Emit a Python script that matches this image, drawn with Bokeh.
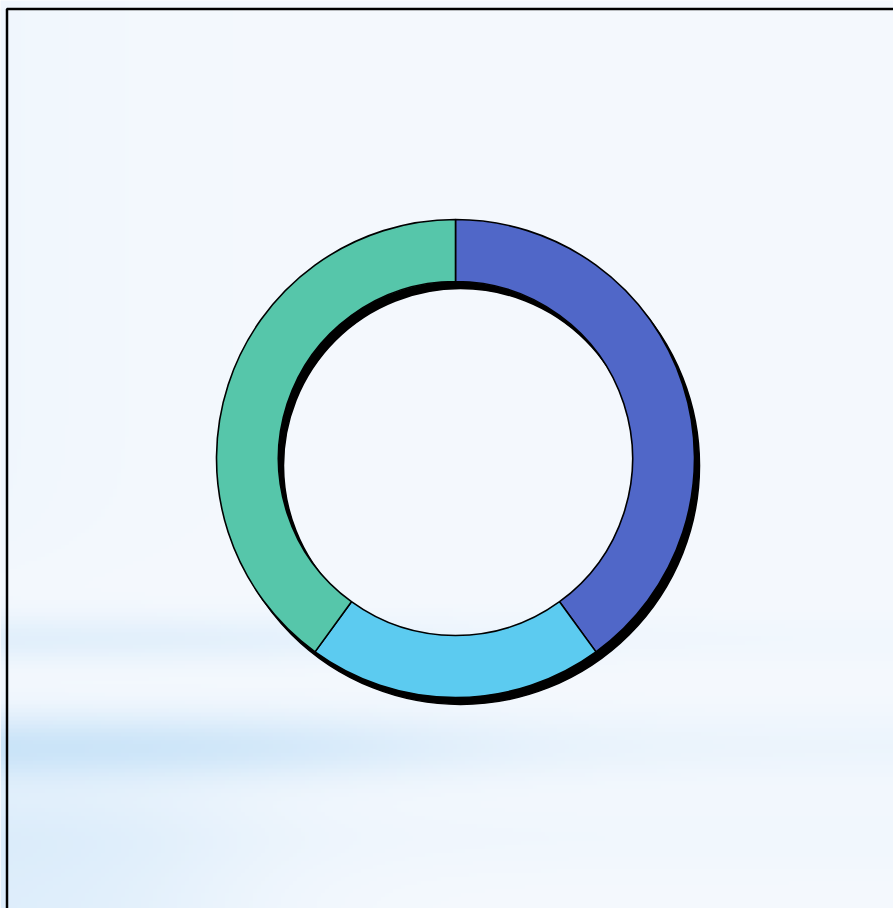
import numpy as np
from bokeh.plotting import figure
from bokeh.models import Range1d, ColumnDataSource
from bokeh.embed import file_html
from bokeh.resources import INLINE

# ---- data ----
categories = ["A", "B", "C"]
values = [40, 20, 40]
colors = ["#5067C8", "#5CCBF0", "#56C6AA"]

W, H = 893, 908
p = figure(width=W, height=H, x_range=Range1d(0, W), y_range=Range1d(0, H),
           output_backend="svg", toolbar_location=None, min_border=0)
p.axis.visible = False
p.grid.visible = False
p.outline_line_color = None
p.background_fill_color = "#F6FAFE"
p.border_fill_color = "#F6FAFE"

# ---- background gradient (decoration) ----
s = 4
nr, nc = H // s + 1, W // s + 1
cols = (np.arange(nc) + 0.5) * s
rows = (np.arange(nr) + 0.5) * s
Y = (H - rows)[:, None]      # page y
X = cols[None, :]            # page x
fade = 0.8 / (1 + np.exp((X - 380) / 100.0)) + 0.2
bandA = 0.40 * np.exp(-((Y - 635) / 24.0) ** 2)
bandB = 0.85 * np.exp(-((Y - 742) / 34.0) ** 2)
lowreg = 0.6 / (1 + np.exp(-(Y - 780) / 20.0))
lowreg = lowreg * (0.85 / (1 + np.exp((X - 200) / 70.0)) + 0.15 * np.exp(-((Y - 830) / 40.0) ** 2))
topleft = 0.10 * np.exp(-X / 150.0) * (1 / (1 + np.exp((Y - 560) / 30.0)))
I = np.clip((bandA + bandB) * fade + lowreg + topleft, 0, 1)
base = np.array([245, 249, 254], float)
blue = np.array([198, 226, 248], float)
rgb = base[None, None, :] + I[:, :, None] * (blue - base)[None, None, :]
img = np.empty((nr, nc), dtype=np.uint32)
view = img.view(dtype=np.uint8).reshape((nr, nc, 4))
for k in range(3):
    view[:, :, k] = np.clip(rgb[:, :, k], 0, 255).astype(np.uint8)
view[:, :, 3] = 255
p.image_rgba(image=[img], x=0, y=H - nr * s, dw=nc * s, dh=nr * s)

# ---- donut ----
cx, cy = 455, H - 458
r_in, r_out = 177, 239
total = float(sum(values))
fr = np.cumsum([0] + values) / total
start = [np.pi / 2 - fr[i] * 2 * np.pi for i in range(len(values))]
end = [np.pi / 2 - fr[i + 1] * 2 * np.pi for i in range(len(values))]
src = ColumnDataSource(dict(cat=categories, val=values, color=colors,
                            start=start, end=end,
                            x=[cx] * len(values), y=[cy] * len(values)))

# shadow
p.annulus(x=cx + 5, y=cy - 7, inner_radius=r_in, outer_radius=r_out,
          inner_radius_units="screen", outer_radius_units="screen",
          fill_color="black", line_color="black", line_width=1.5)

p.annular_wedge(x="x", y="y", inner_radius=r_in, outer_radius=r_out,
                inner_radius_units="screen", outer_radius_units="screen",
                start_angle="start", end_angle="end", direction="clock",
                fill_color="color", line_color="black", line_width=1.6,
                source=src)

# frame border (top & left)
p.line(x=[6.5, 6.5, W + 5], y=[-5, H - 8.5, H - 8.5], line_color="black", line_width=2.5)

open("out.html", "w").write(file_html(p, INLINE))
